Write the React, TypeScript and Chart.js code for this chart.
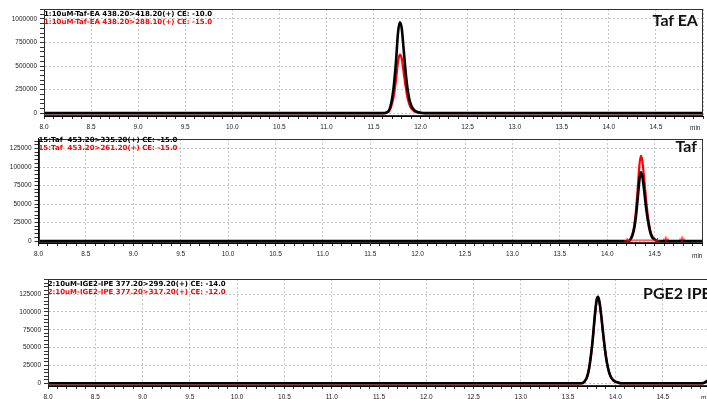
import React, { useEffect, useRef } from 'react';
import { Chart, registerables } from 'chart.js';
Chart.register(...registerables);

// ---------- Data (retention time in min, intensity) ----------
// Panel 1: Taf EA
const tafEaX = [8.0, 11.6, 11.64, 11.67, 11.7, 11.72, 11.74, 11.76, 11.78, 11.8, 11.82, 11.84, 11.86, 11.88, 11.9, 11.93, 11.96, 12.0, 12.04, 15.0];
const tafEaBlack = [0, 0, 8000, 40000, 170000, 330000, 560000, 850000, 965000, 900000, 680000, 450000, 270000, 150000, 85000, 35000, 15000, 5000, 0, 0];
const tafEaRed = [0, 0, 5000, 26000, 110000, 210000, 360000, 545000, 620000, 580000, 435000, 290000, 172000, 96000, 54000, 22000, 9000, 3000, 0, 0];

// Panel 2: Taf
const tafX = [8.0, 14.22, 14.25, 14.28, 14.3, 14.32, 14.34, 14.355, 14.37, 14.39, 14.41, 14.43, 14.45, 14.47, 14.5, 14.53, 15.0];
const tafBlack = [0, 0, 3000, 14000, 30000, 55000, 83000, 93000, 88000, 68000, 45000, 27000, 14000, 6000, 2000, 0, 0];
const tafRed = [0, 0, 3700, 17000, 37000, 68000, 103000, 115000, 109000, 84000, 56000, 33000, 17000, 7500, 2500, 0, 0];
const tafMarkX = [14.21, 14.53, 14.62, 14.79];
const tafMarkY = [0, 0, 2500, 2500];
const tafIntegX = [14.21, 14.53];
const tafIntegY = [1200, 1200];

// Panel 3: PGE2 IPE
const pgeX = [8.0, 13.64, 13.67, 13.7, 13.72, 13.74, 13.76, 13.78, 13.8, 13.815, 13.83, 13.85, 13.87, 13.89, 13.91, 13.93, 13.95, 13.98, 14.02, 14.06, 14.92, 14.96, 15.0];
const pgeBlack = [0, 0, 2000, 9000, 20000, 38000, 62000, 92000, 116000, 121000, 115000, 95000, 70000, 47000, 29000, 17000, 9500, 4000, 1500, 0, 0, 2500, 6000];
const pgeRed = [0, 0, 1800, 8500, 19000, 36500, 60000, 90000, 114000, 119500, 113500, 93500, 69000, 46000, 28500, 16500, 9000, 3800, 1400, 0, 0, 2000, 5000];

// Labels
const tafEaLine1 = '1:10uM-Taf-EA 438.20>418.20(+) CE: -10.0';
const tafEaLine2 = '1:10uM-Taf-EA 438.20>288.10(+) CE: -15.0';
const tafLine1 = '15:Taf  453.20>335.20(+) CE: -15.0';
const tafLine2 = '15:Taf  453.20>261.20(+) CE: -15.0';
const pgeLine1 = '2:10uM-IGE2-IPE 377.20>299.20(+) CE: -14.0';
const pgeLine2 = '2:10uM-IGE2-IPE 377.20>317.20(+) CE: -12.0';
const tafEaName = 'Taf EA';
const tafName = 'Taf';
const pgeName = 'PGE2 IPE';
const xUnit = 'min';

const zip = (xs: number[], ys: number[]) => xs.map((x, i) => ({ x, y: ys[i] }));

const framePlugin = {
  id: 'frame',
  afterDraw(chart: any) {
    const { ctx, chartArea: a } = chart;
    ctx.save();
    ctx.strokeStyle = '#333';
    ctx.lineWidth = 1;
    ctx.strokeRect(Math.round(a.left) + 0.5, Math.round(a.top) + 0.5, Math.round(a.right - a.left) - 1, Math.round(a.bottom - a.top) - 1);
    ctx.restore();
  },
};

interface PanelCfg {
  yMin: number; yMax: number; yStep: number; yMajor: number;
  yWidth: number; padTop: number; padRight: number; xHeight: number;
  datasets: any[];
}

const tickFont = { family: '"Liberation Sans", Arial, sans-serif', size: 6.5 };

function stepTicks(min: number, max: number, step: number) {
  const out: { value: number }[] = [];
  const k0 = Math.ceil(min / step - 1e-9);
  const k1 = Math.floor(max / step + 1e-9);
  for (let k = k0; k <= k1; k++) out.push({ value: Math.round(k * step * 1000) / 1000 });
  return out;
}

function buildChart(canvas: HTMLCanvasElement, p: PanelCfg) {
  return new Chart(canvas, {
    type: 'line',
    data: { datasets: p.datasets },
    plugins: [framePlugin],
    options: {
      animation: false,
      responsive: false,
      maintainAspectRatio: false,
      devicePixelRatio: 1,
      layout: { padding: { top: p.padTop, right: p.padRight, left: 0, bottom: 0 } },
      plugins: { legend: { display: false }, tooltip: { enabled: false }, title: { display: false } },
      elements: { point: { radius: 0 } },
      scales: {
        x: {
          type: 'linear', min: 8, max: 15,
          afterBuildTicks: (s: any) => { s.ticks = stepTicks(8, 15, 0.1); },
          afterFit: (s: any) => { s.height = p.xHeight; },
          ticks: {
            autoSkip: false, maxRotation: 0, minRotation: 0,
            padding: 4, font: tickFont, color: '#222',
            callback: (v: any) => {
              const t = Math.round(Number(v) * 10);
              if (t % 5 !== 0 || t === 150) return '';
              return (t / 10).toFixed(1);
            },
          },
          grid: {
            color: (c: any) => (Math.round(c.tick.value * 10) % 5 === 0 ? '#c4c4c4' : 'rgba(0,0,0,0)'),
            lineWidth: 1, tickLength: 3, tickColor: '#333',
          },
          border: { display: true, color: '#000', width: 1, dash: [2, 2] },
        },
        y: {
          type: 'linear', min: p.yMin, max: p.yMax,
          afterBuildTicks: (s: any) => { s.ticks = stepTicks(p.yMin, p.yMax, p.yStep); },
          afterFit: (s: any) => { s.width = p.yWidth; },
          ticks: {
            autoSkip: false,
            padding: 3, font: tickFont, color: '#222',
            callback: (v: any) => {
              const n = Math.round(Number(v));
              return n % p.yMajor === 0 ? String(n) : '';
            },
          },
          grid: {
            color: (c: any) => (Math.round(c.tick.value) % p.yMajor === 0 ? '#c4c4c4' : 'rgba(0,0,0,0)'),
            lineWidth: 1, tickLength: 4, tickColor: '#333',
          },
          border: { display: true, color: '#000', width: 1, dash: [2, 2] },
        },
      },
    } as any,
  });
}

const lineDs = (data: any[], color: string, width: number) => ({
  data, borderColor: color, borderWidth: width, pointRadius: 0, fill: false,
  cubicInterpolationMode: 'monotone', tension: 0.4,
});

export default function App() {
  const c1 = useRef<HTMLCanvasElement>(null);
  const c2 = useRef<HTMLCanvasElement>(null);
  const c3 = useRef<HTMLCanvasElement>(null);

  useEffect(() => {
    const charts: Chart[] = [];
    charts.push(buildChart(c1.current!, {
      yMin: -30000, yMax: 1105000, yStep: 50000, yMajor: 250000,
      yWidth: 44, padTop: 9, padRight: 4, xHeight: 16,
      datasets: [lineDs(zip(tafEaX, tafEaBlack), '#000', 2.6), lineDs(zip(tafEaX, tafEaRed), '#ff0000', 2.2)],
    }));
    charts.push(buildChart(c2.current!, {
      yMin: -2700, yMax: 138000, yStep: 5000, yMajor: 25000,
      yWidth: 38.5, padTop: 5.7, padRight: 4, xHeight: 19,
      datasets: [
        { data: zip(tafIntegX, tafIntegY), borderColor: '#ff0000', borderWidth: 1, pointRadius: 0, fill: false },
        { data: zip(tafMarkX, tafMarkY), showLine: false, pointStyle: 'cross', pointRadius: 3, borderColor: '#ff0000', borderWidth: 1 },
        lineDs(zip(tafX, tafBlack), '#000', 2.6),
        lineDs(zip(tafX, tafRed), '#ff0000', 2.2),
      ],
    }));
    charts.push(buildChart(c3.current!, {
      yMin: -3800, yMax: 145600, yStep: 5000, yMajor: 25000,
      yWidth: 48, padTop: 17.3, padRight: 4, xHeight: 13,
      datasets: [lineDs(zip(pgeX, pgeBlack), '#000', 2.6), lineDs(zip(pgeX, pgeRed), '#ff0000', 2.2)],
    }));
    return () => charts.forEach((c) => c.destroy());
  }, []);

  const small: React.CSSProperties = {
    position: 'absolute', font: 'bold 7px "DejaVu Sans", Verdana, sans-serif',
    lineHeight: '8px', whiteSpace: 'pre',
  };
  const big: React.CSSProperties = {
    position: 'absolute', font: 'bold 16px Lato, "Open Sans", sans-serif', lineHeight: '16px',
    whiteSpace: 'pre', color: '#111',
  };
  const unit: React.CSSProperties = {
    position: 'absolute', font: '6.5px "Liberation Sans", Arial, sans-serif', lineHeight: '7px', color: '#222',
  };

  return (
    <div style={{ position: 'fixed', left: 0, top: 0, width: 707, height: 399, overflow: 'hidden', background: '#fff' }}>
      <canvas ref={c1} width={707} height={132} style={{ position: 'absolute', left: 0, top: 0, width: 707, height: 132 }} />
      <canvas ref={c2} width={707} height={130} style={{ position: 'absolute', left: 0, top: 132, width: 707, height: 130 }} />
      <canvas ref={c3} width={714} height={137} style={{ position: 'absolute', left: 0, top: 262, width: 714, height: 137 }} />

      <div style={{ ...small, left: 44, top: 9.5 }}>
        <div style={{ color: '#000' }}>{tafEaLine1}</div>
        <div style={{ color: '#ff0000' }}>{tafEaLine2}</div>
      </div>
      <div style={{ ...small, left: 38.5, top: 137, lineHeight: '7.5px' }}>
        <div style={{ color: '#000' }}>{tafLine1}</div>
        <div style={{ color: '#ff0000' }}>{tafLine2}</div>
      </div>
      <div style={{ ...small, left: 47.7, top: 280, lineHeight: '8.3px' }}>
        <div style={{ color: '#000' }}>{pgeLine1}</div>
        <div style={{ color: '#ff0000' }}>{pgeLine2}</div>
      </div>

      <div style={{ ...big, right: 9, top: 12 }}>{tafEaName}</div>
      <div style={{ ...big, right: 10, top: 137.5 }}>{tafName}</div>
      <div style={{ ...big, left: 643, top: 285 }}>{pgeName}</div>

      <div style={{ ...unit, left: 690, top: 124 }}>{xUnit}</div>
      <div style={{ ...unit, left: 692, top: 252 }}>{xUnit}</div>
      <div style={{ ...unit, left: 701, top: 393.5 }}>{xUnit}</div>
    </div>
  );
}
